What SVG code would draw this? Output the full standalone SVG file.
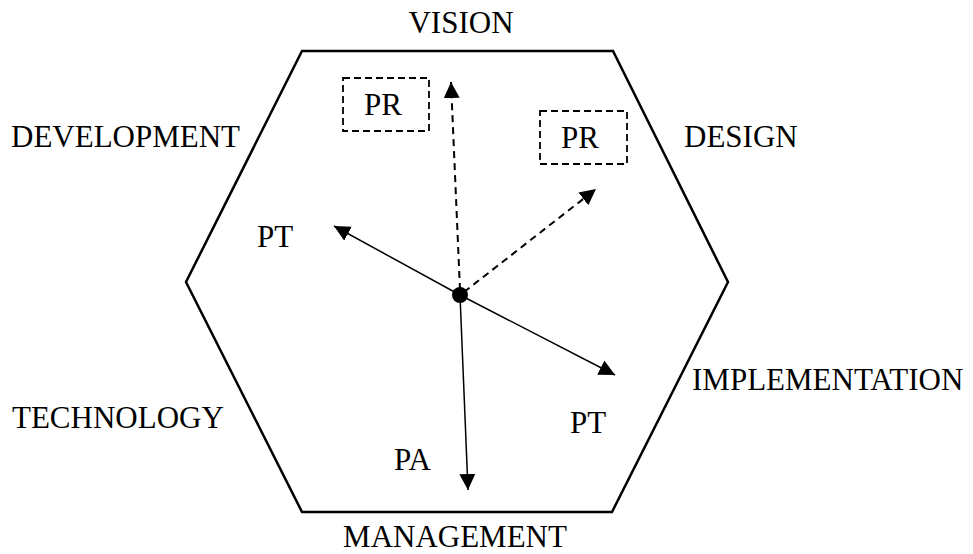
<svg xmlns="http://www.w3.org/2000/svg" width="973" height="554" viewBox="0 0 973 554">
  <style>
    .lbl { font-family: "Liberation Serif", "Times New Roman", serif; font-size: 31px; fill: #000; }
    .hex { fill: none; stroke: #000; stroke-width: 2.5; stroke-linejoin: miter; }
    .box { fill: none; stroke: #000; stroke-width: 1.8; stroke-dasharray: 7 4; }
    .solid { fill: none; stroke: #000; stroke-width: 1.5; marker-end: url(#head); }
    .dash { fill: none; stroke: #000; stroke-width: 2; stroke-dasharray: 7 5; marker-end: url(#head); }
  </style>
  <defs>
    <marker id="head" markerUnits="userSpaceOnUse" markerWidth="18" markerHeight="18" refX="16" refY="8" orient="auto">
      <path d="M0,0 L16,8 L0,16 Z" fill="#000"/>
    </marker>
  </defs>
  <rect width="973" height="554" fill="#fff"/>

  <!-- outer hexagon -->
  <g id="hexagon">
    <polygon class="hex" points="302,51 613,51 728,282 612,512 302,512 186,282"/>
  </g>

  <!-- side labels -->
  <g id="vision"><text class="lbl" x="461" y="33" text-anchor="middle">VISION</text></g>
  <g id="design"><text class="lbl" x="684" y="147">DESIGN</text></g>
  <g id="implementation"><text class="lbl" x="692" y="390">IMPLEMENTATION</text></g>
  <g id="management"><text class="lbl" x="455" y="547" text-anchor="middle">MANAGEMENT</text></g>
  <g id="technology"><text class="lbl" x="12" y="428">TECHNOLOGY</text></g>
  <g id="development"><text class="lbl" x="11" y="147">DEVELOPMENT</text></g>

  <!-- dashed boxes -->
  <g id="pr-vision">
    <rect class="box" x="343" y="78" width="86" height="53"/>
    <text class="lbl" x="364" y="115">PR</text>
  </g>
  <g id="pr-design">
    <rect class="box" x="540" y="111" width="87" height="53"/>
    <text class="lbl" x="561" y="148">PR</text>
  </g>

  <!-- inner labels -->
  <g id="pt-development"><text class="lbl" x="257" y="247">PT</text></g>
  <g id="pt-implementation"><text class="lbl" x="570" y="433">PT</text></g>
  <g id="pa-management"><text class="lbl" x="394" y="470">PA</text></g>

  <!-- connectors -->
  <g id="connectors">
    <line class="dash" x1="460" y1="290" x2="451" y2="82"/>
    <line class="dash" x1="464" y1="292" x2="596" y2="189"/>
    <line class="solid" x1="460" y1="295" x2="334" y2="226"/>
    <line class="solid" x1="460" y1="295" x2="615" y2="375"/>
    <line class="solid" x1="460" y1="295" x2="468" y2="490"/>
  </g>

  <!-- hub -->
  <g id="hub"><circle cx="460" cy="295" r="8" fill="#000"/></g>
</svg>
